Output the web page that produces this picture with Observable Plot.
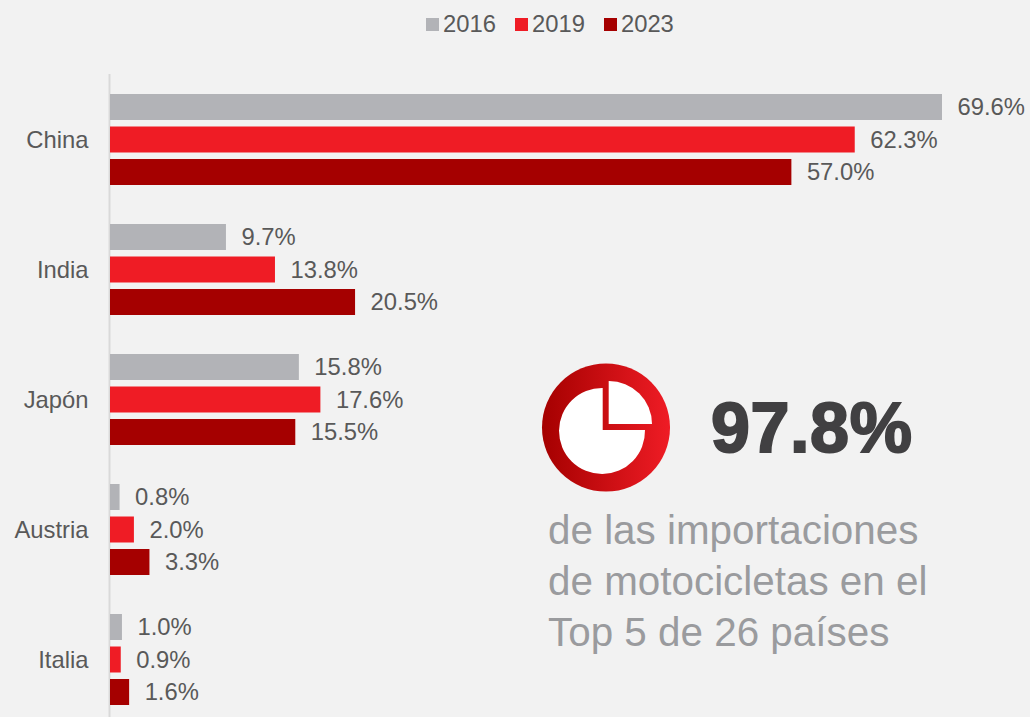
<!DOCTYPE html>
<html lang="es">
<head>
<meta charset="utf-8">
<script src="https://cdn.jsdelivr.net/npm/d3@7"></script>
<script src="https://cdn.jsdelivr.net/npm/@observablehq/plot@0.6"></script>
<style>
html,body{margin:0;padding:0;background:#f2f2f2;}
body{width:1030px;height:717px;position:relative;overflow:hidden;font-family:"Liberation Sans",Arial,sans-serif;}
#chart{position:absolute;left:0;top:0;}
#chart svg{display:block;background:transparent;}
.legend{position:absolute;left:426px;top:10px;height:28px;display:flex;align-items:center;font-size:23.8px;color:#595959;line-height:28px;}
.legend span.sw{display:inline-block;width:13px;height:13px;margin-right:4px;}
.legend span.it{display:flex;align-items:center;margin-right:19px;}
.big{position:absolute;left:711px;top:388px;font-size:70px;line-height:80px;font-weight:700;color:#414042;-webkit-text-stroke:2px #414042;letter-spacing:.6px;white-space:nowrap;}
.desc{position:absolute;left:548px;top:505px;font-size:40.4px;line-height:51px;color:#9a9b9e;white-space:nowrap;}
.icon{position:absolute;left:0;top:0;}
</style>
</head>
<body>
<div id="chart"></div>
<div class="legend" id="legend"></div>
<svg class="icon" width="1030" height="717" aria-hidden="true">
  <defs><linearGradient id="g" x1="0" x2="1" y1="0" y2="0"><stop offset="0" stop-color="#a50000"/><stop offset="1" stop-color="#ef1c25"/></linearGradient></defs>
  <circle cx="606" cy="427.5" r="64" fill="url(#g)"/>
  <path d="M602.7 388 A43 43 0 1 0 645 430 L602.7 430 Z" fill="#fff"/>
  <path d="M608.7 381 A43 43 0 0 1 652 424 L608.7 424 Z" fill="#fff"/>
</svg>
<div class="big">97.8%</div>
<div class="desc">de las importaciones<br>de motocicletas en el<br>Top 5 de 26 países</div>
<script>
const countries = ["China", "India", "Japón", "Austria", "Italia"];
const years = ["2016", "2019", "2023"];
const values2016 = [69.6, 9.7, 15.8, 0.8, 1.0];
const values2019 = [62.3, 13.8, 17.6, 2.0, 0.9];
const values2023 = [57.0, 20.5, 15.5, 3.3, 1.6];
const colors = ["#b2b3b7", "#ef1c25", "#a50000"];

const series = [values2016, values2019, values2023];
const rows = countries.flatMap((c, i) => years.map((y, j) => ({
  country: c, year: y, value: series[j][i], key: c + "|" + y
})));
// Each country takes three bar slots plus one empty slot as the gap.
const slots = countries.flatMap(c => [...years.map(y => c + "|" + y), c + "|gap"]);
const labelled = countries.map(c => c + "|2019");

const plot = Plot.plot({
  width: 1030,
  height: 717,
  marginLeft: 110,
  marginRight: 88,
  marginTop: 74,
  marginBottom: 0,
  style: {background: "transparent", fontFamily: "'Liberation Sans', Arial, sans-serif"},
  x: {domain: [0, 69.6], range: [110, 942], axis: null},
  y: {domain: slots, range: [90.75, 740.75], paddingInner: 0.2, paddingOuter: 0.1, align: 0.5, round: false, axis: null},
  color: {domain: years, range: colors},
  marks: [
    Plot.ruleX([0], {stroke: "#d9d9d9", strokeWidth: 2, dx: -1}),
    Plot.barX(rows, {x: "value", y: "key", fill: "year"}),
    Plot.text(rows, {
      x: "value", y: "key", text: d => d.value.toFixed(1) + "%",
      textAnchor: "start", dx: 15, fontSize: 23.8, fill: "#595959"
    }),
    Plot.axisY({
      ticks: labelled, tickSize: 0, tickPadding: 22, label: null,
      tickFormat: d => d.split("|")[0], fontSize: 23.8, fill: "#595959"
    })
  ]
});
document.getElementById("chart").append(plot);

const legend = document.getElementById("legend");
years.forEach((y, i) => {
  const it = document.createElement("span");
  it.className = "it";
  const sw = document.createElement("span");
  sw.className = "sw";
  sw.style.background = colors[i];
  it.append(sw, document.createTextNode(y));
  legend.append(it);
});
</script>
</body>
</html>
